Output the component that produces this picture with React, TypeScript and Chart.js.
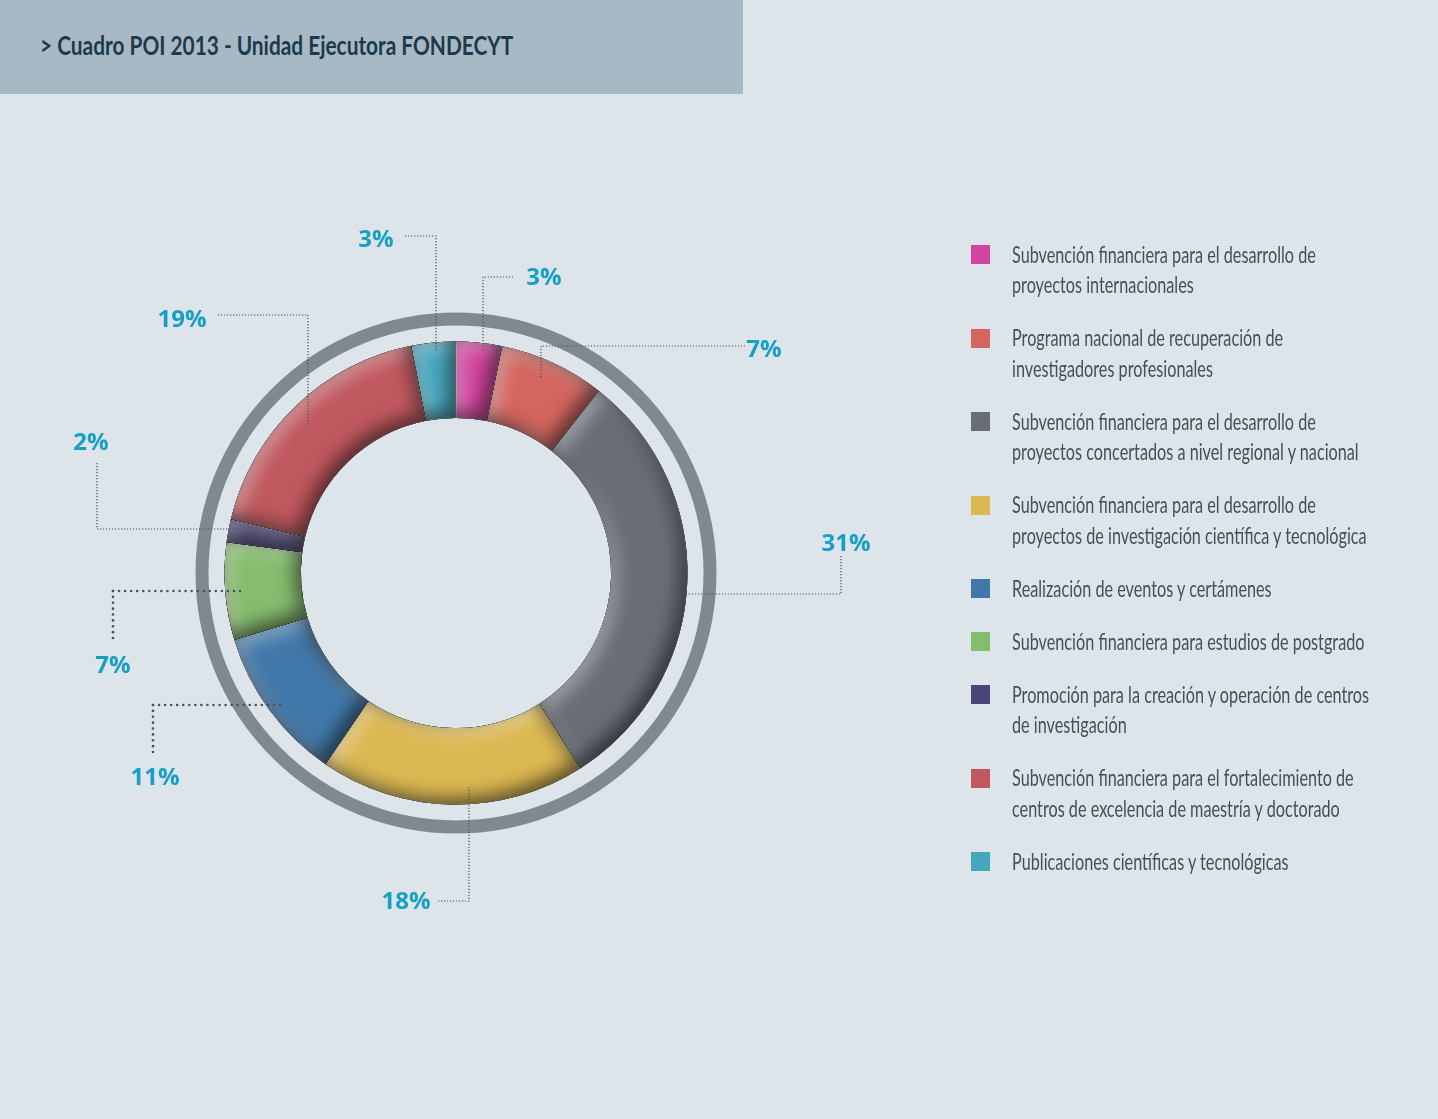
import React, { useEffect, useLayoutEffect, useRef, useState } from "react";
import { Chart, registerables } from "chart.js";

Chart.register(...registerables);

// ---------- data ----------
const title = "> Cuadro POI 2013 - Unidad Ejecutora FONDECYT";

const categories: string[][] = [
  ["Subvención financiera para el desarrollo de", "proyectos internacionales"],
  ["Programa nacional de recuperación de", "investigadores profesionales"],
  ["Subvención financiera para el desarrollo de", "proyectos concertados a nivel regional y nacional"],
  ["Subvención financiera para el desarrollo de", "proyectos de investigación científica y tecnológica"],
  ["Realización de eventos y certámenes"],
  ["Subvención financiera para estudios de postgrado"],
  ["Promoción para la creación y operación de centros", "de investigación"],
  ["Subvención financiera para el fortalecimiento de", "centros de excelencia de maestría y doctorado"],
  ["Publicaciones científicas y tecnológicas"],
];

const values = [3.2, 7.4, 30.4, 18.6, 10.8, 6.8, 1.6, 18.2, 3.1];

// percentage labels as printed
const percentLabels = ["3%", "7%", "31%", "18%", "11%", "7%", "2%", "19%", "3%"];

const colors = [
  "#d3449f",
  "#d4665f",
  "#696d78",
  "#dcb852",
  "#4178aa",
  "#86bc6e",
  "#4a4679",
  "#c0585f",
  "#45a6be",
];

// ---------- layout (offsets from the doughnut centre) ----------
const leaderLayout = [
  { label: [88, -297], path: [[57, -296], [27, -296], [27, -221]], thick: false },
  { label: [308, -225], path: [[289, -227], [85, -227], [85, -195]], thick: false },
  { label: [390, -31], path: [[385, -17], [385, 21], [213, 21]], thick: false },
  { label: [-50, 327], path: [[-18, 328], [13, 328], [13, 214]], thick: false },
  { label: [-301, 203], path: [[-303, 179], [-303, 132], [-176, 132]], thick: true },
  { label: [-343, 91], path: [[-343, 65], [-343, 18], [-216, 18]], thick: true },
  { label: [-365, -132], path: [[-359, -110], [-359, -44], [-216, -44]], thick: false },
  { label: [-274, -255], path: [[-238, -258], [-148, -258], [-148, -148]], thick: false },
  { label: [-80, -335], path: [[-51, -337], [-20, -337], [-20, -221]], thick: false },
];

const PAGE_W = 1438;
const PAGE_H = 1119;
const BG = "#dde5ea";
const LABEL_COLOR = "#17a0c3";
const LEADER_COLOR = "#4a5259";
const RING_COLOR = "#7f8a90";

function arcPathOn(ctx: CanvasRenderingContext2D, a: any) {
  ctx.moveTo(a.x + a.outerRadius * Math.cos(a.startAngle), a.y + a.outerRadius * Math.sin(a.startAngle));
  ctx.arc(a.x, a.y, a.outerRadius, a.startAngle, a.endAngle);
  ctx.arc(a.x, a.y, a.innerRadius, a.endAngle, a.startAngle, true);
  ctx.closePath();
}

function innerShadow(ctx: CanvasRenderingContext2D, a: any, color: string, ox: number, oy: number, blur: number) {
  ctx.save();
  ctx.beginPath();
  arcPathOn(ctx, a);
  ctx.clip();
  ctx.beginPath();
  ctx.rect(a.x - 3000, a.y - 3000, 6000, 6000);
  arcPathOn(ctx, a);
  ctx.shadowColor = color;
  ctx.shadowBlur = blur;
  ctx.shadowOffsetX = ox;
  ctx.shadowOffsetY = oy;
  ctx.fillStyle = "#000";
  ctx.fill("evenodd");
  ctx.restore();
}

function dotted(ctx: CanvasRenderingContext2D, pts: number[][], thick: boolean) {
  ctx.save();
  ctx.fillStyle = LEADER_COLOR;
  ctx.strokeStyle = LEADER_COLOR;
  if (!thick) {
    ctx.lineWidth = 1.2;
    ctx.setLineDash([1.2, 1.8]);
    ctx.beginPath();
    ctx.moveTo(pts[0][0], pts[0][1]);
    for (let i = 1; i < pts.length; i++) ctx.lineTo(pts[i][0], pts[i][1]);
    ctx.stroke();
  } else {
    const spacing = 6;
    for (let i = 0; i < pts.length - 1; i++) {
      const [x0, y0] = pts[i];
      const [x1, y1] = pts[i + 1];
      const len = Math.hypot(x1 - x0, y1 - y0);
      const n = Math.round(len / spacing);
      for (let k = 0; k <= n; k++) {
        const t = n === 0 ? 0 : k / n;
        ctx.beginPath();
        ctx.arc(x0 + (x1 - x0) * t, y0 + (y1 - y0) * t, 1.3, 0, Math.PI * 2);
        ctx.fill();
      }
    }
  }
  ctx.restore();
}

const decorPlugin = {
  id: "decor",
  beforeDatasetsDraw(chart: any) {
    const meta = chart.getDatasetMeta(0);
    const a0 = meta.data[0];
    if (!a0) return;
    const ctx = chart.ctx as CanvasRenderingContext2D;
    ctx.save();
    ctx.beginPath();
    ctx.arc(a0.x, a0.y, a0.outerRadius + 22.5, 0, Math.PI * 2);
    ctx.lineWidth = 13;
    ctx.strokeStyle = RING_COLOR;
    ctx.stroke();
    ctx.restore();
  },
  afterDatasetsDraw(chart: any) {
    const meta = chart.getDatasetMeta(0);
    const ctx = chart.ctx as CanvasRenderingContext2D;
    meta.data.forEach((a: any) => {
      innerShadow(ctx, a, "rgba(255,255,255,0.45)", 5, 5, 18);
      innerShadow(ctx, a, "rgba(0,0,0,0.6)", -6, -6, 18);
    });
    const cx = meta.data[0].x;
    const cy = meta.data[0].y;
    percentLabels.forEach((txt, i) => {
      const L = leaderLayout[i];
      const pts = L.path.map(([dx, dy]) => [cx + dx, cy + dy]);
      dotted(ctx, pts, L.thick);
      ctx.save();
      ctx.font = 'bold 24px "Open Sans", sans-serif';
      ctx.textAlign = "center";
      ctx.textBaseline = "alphabetic";
      ctx.fillStyle = LABEL_COLOR;
      ctx.fillText(txt, cx + L.label[0], cy + L.label[1] + 8.6);
      ctx.restore();
    });
  },
};

export default function App() {
  const canvasRef = useRef<HTMLCanvasElement>(null);
  const titleRef = useRef<HTMLSpanElement>(null);
  const measureRef = useRef<HTMLSpanElement>(null);
  const [titleScale, setTitleScale] = useState(1);
  const [legendScale, setLegendScale] = useState(1);

  useLayoutEffect(() => {
    if (titleRef.current) setTitleScale(473 / titleRef.current.offsetWidth);
    if (measureRef.current) setLegendScale(304 / measureRef.current.offsetWidth);
  }, []);

  useEffect(() => {
    if (!canvasRef.current) return;
    const chart = new Chart(canvasRef.current, {
      type: "doughnut",
      data: {
        labels: categories.map((c) => c.join(" ")),
        datasets: [
          {
            data: values,
            backgroundColor: colors,
            borderColor: "rgba(255,255,255,0.35)",
            borderWidth: 1,
          },
        ],
      },
      options: {
        responsive: false,
        animation: false,
        events: [],
        cutout: "67%",
        rotation: 0,
        layout: { padding: { left: 224, top: 341, right: 750, bottom: 314 } },
        plugins: { legend: { display: false }, tooltip: { enabled: false } },
      },
      plugins: [decorPlugin],
    } as any);
    return () => chart.destroy();
  }, []);

  return (
    <div
      style={{
        position: "absolute",
        left: 0,
        top: 0,
        width: PAGE_W,
        height: PAGE_H,
        background: BG,
        overflow: "hidden",
      }}
    >
      <canvas
        ref={canvasRef}
        width={PAGE_W}
        height={PAGE_H}
        style={{ position: "absolute", left: 0, top: 0, width: PAGE_W, height: PAGE_H }}
      />
      <div style={{ position: "absolute", left: 0, top: 0, width: 743, height: 94, background: "#a8b9c6" }}>
        <span
          ref={titleRef}
          style={{
            position: "absolute",
            left: 40,
            top: 32,
            font: "bold 26px Lato, sans-serif",
            lineHeight: "26px",
            color: "#1c3a49",
            whiteSpace: "nowrap",
            transform: `scaleX(${titleScale})`,
            transformOrigin: "left top",
          }}
        >
          {title}
        </span>
      </div>
      <div style={{ position: "absolute", left: 971, top: 238.8 }}>
        {categories.map((lines, i) => (
          <div key={i} style={{ display: "flex", alignItems: "flex-start", marginBottom: 22.5 }}>
            <div style={{ width: 19, height: 19, marginTop: 6.6, background: colors[i], flex: "none" }} />
            <div
              style={{
                marginLeft: 22,
                font: "23px Lato, sans-serif",
                lineHeight: "30.5px",
                color: "#41505a",
                whiteSpace: "nowrap",
                transform: `scaleX(${legendScale})`,
                transformOrigin: "left top",
              }}
            >
              {lines.map((l, j) => (
                <div key={j}>
                  <span ref={i === 0 && j === 0 ? measureRef : undefined} style={{ display: "inline-block" }}>
                    {l}
                  </span>
                </div>
              ))}
            </div>
          </div>
        ))}
      </div>
    </div>
  );
}
